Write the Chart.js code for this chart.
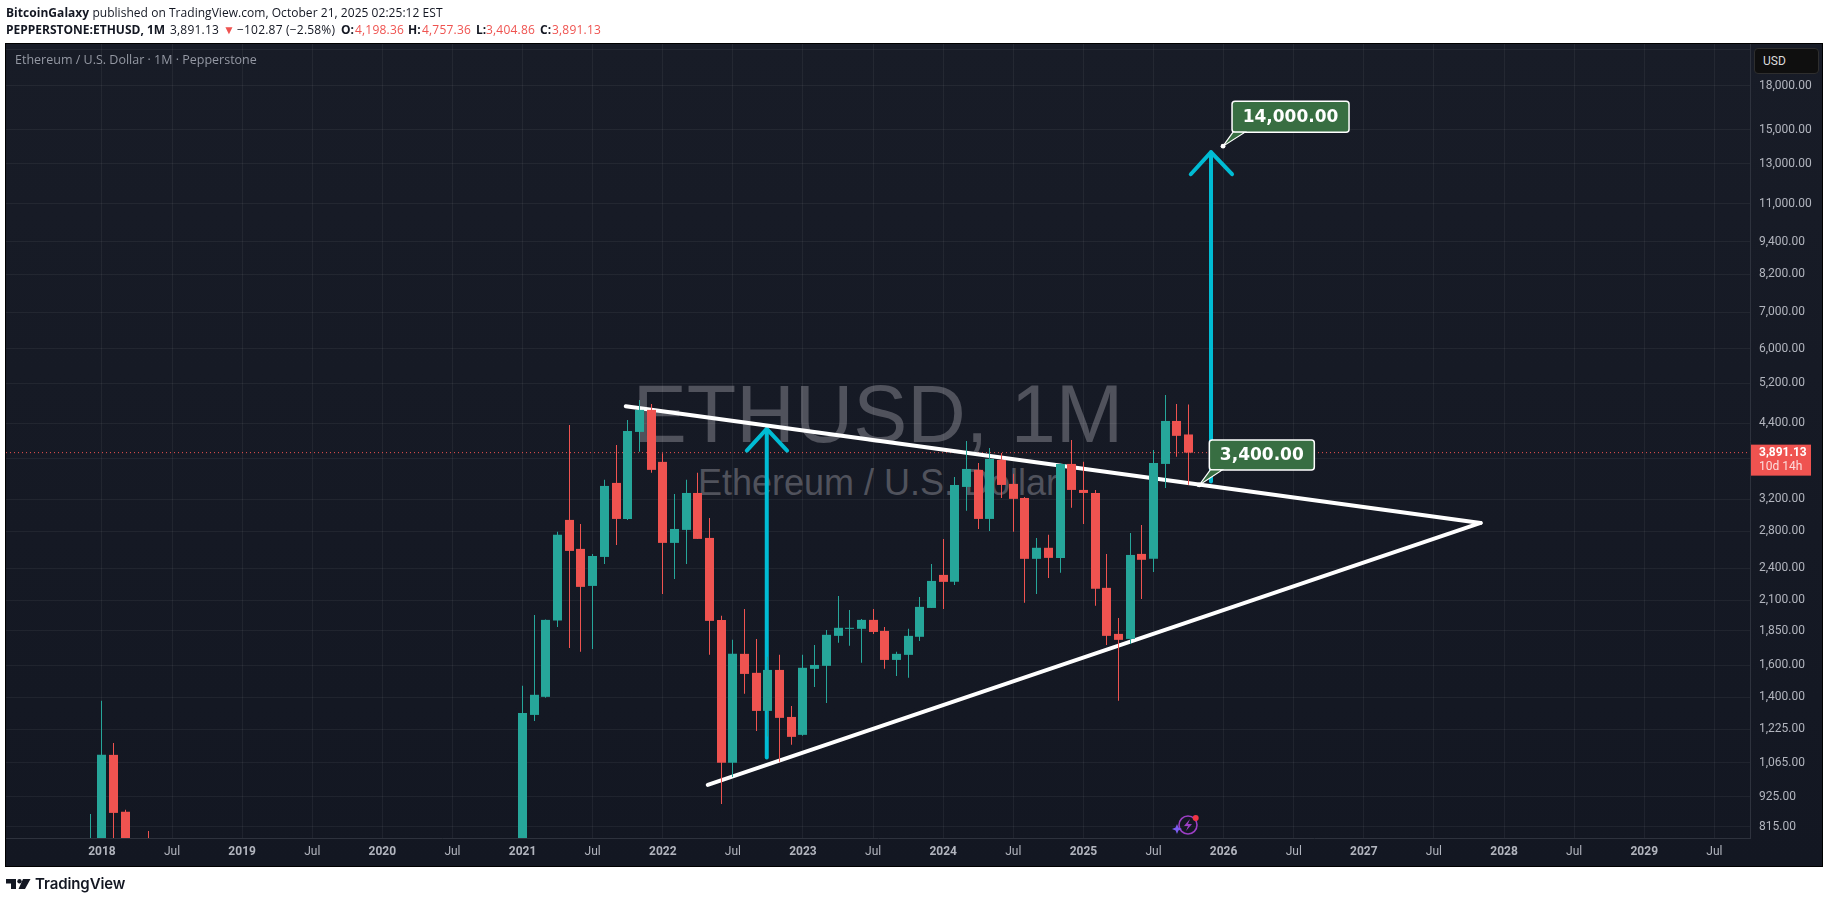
<!DOCTYPE html>
<html>
<head>
<meta charset="utf-8">
<title>ETHUSD 1M</title>
<script src="https://cdn.jsdelivr.net/npm/chart.js@4"></script>
<style>
  html,body{margin:0;padding:0;background:#fff;overflow:hidden}
  body{width:1829px;height:903px;position:relative;font-family:"Open Sans",sans-serif;color:#131722}
  .abs{position:absolute;white-space:nowrap}
  #frame{left:5px;top:43px;width:1816px;height:822px;border:1px solid #000;background:linear-gradient(#181c27,#131722)}
  #chart{position:absolute;left:0;top:0}
  #line1{left:6px;top:4px;font-size:12px;line-height:17px;letter-spacing:.04px}
  #line2 span{position:absolute;top:21px;font-size:12px;line-height:18px;white-space:nowrap;letter-spacing:.2px}
  #line2 span.b{font-weight:700;letter-spacing:0}
  #line2 span.r{color:#ef5350}
  #line1 b{font-weight:700}
  #legend{left:15px;top:51px;font-size:12.5px;line-height:18px;color:#949823;color:#9498a3}
  .wm{left:6px;width:1744px;text-align:center;font-family:"Liberation Sans",sans-serif;color:#50525c}
  #wm1{top:367px;font-size:81px;line-height:94px}
  #wm2{top:462px;font-size:36px;line-height:42px}
  #usd{left:1754px;top:48px;width:55px;height:24px;padding-left:8px;border:1px solid #2e2e2e;border-radius:4px;background:#0f0f0f;color:#dbdbdb;font:12px/24px Roboto,sans-serif}
  #logotext{left:35px;top:872px;font:600 15px/24px Inter,sans-serif;color:#131722;letter-spacing:-.1px}
</style>
</head>
<body>
<div id="frame" class="abs"></div>
<div id="wm1" class="abs wm">ETHUSD, 1M</div>
<div id="wm2" class="abs wm">Ethereum / U.S. Dollar</div>
<canvas id="chart" width="1829" height="903"></canvas>
<div id="line1" class="abs"><b>BitcoinGalaxy</b> published on TradingView.com, October 21, 2025 02:25:12 EST</div>
<div id="line2">
  <span class="b" style="left:6px">PEPPERSTONE:ETHUSD, 1M</span>
  <span style="left:170px">3,891.13</span>
  <span class="r" style="left:223px">▼</span>
  <span style="left:237px">−102.87 (−2.58%)</span>
  <span class="b" style="left:341px">O:</span>
  <span class="r" style="left:355px">4,198.36</span>
  <span class="b" style="left:408px">H:</span>
  <span class="r" style="left:422px">4,757.36</span>
  <span class="b" style="left:476px">L:</span>
  <span class="r" style="left:486px">3,404.86</span>
  <span class="b" style="left:540px">C:</span>
  <span class="r" style="left:552px">3,891.13</span>
</div>
<div id="legend" class="abs">Ethereum / U.S. Dollar · 1M · Pepperstone</div>
<div id="usd" class="abs">USD</div>
<svg class="abs" style="left:1172px;top:811px" width="32" height="26" viewBox="0 0 32 26">
  <circle cx="16" cy="14" r="9" fill="none" stroke="#9c3fc4" stroke-width="1.6"/>
  <path d="M18 8 L12 15 L16 15 L14 20 L20 13 L16 13 Z" fill="#9c3fc4"/>
  <circle cx="23.7" cy="7" r="3" fill="#f23645"/>
  <path d="M5 13 L6.4 16.6 L10 18 L6.4 19.4 L5 23 L3.6 19.4 L0 18 L3.6 16.6 Z" fill="#7b5cf0"/>
</svg>
<svg class="abs" style="left:6px;top:879px" width="25" height="10" viewBox="0 0 25 10">
  <path d="M0 0 H10 V10 H5 V4.5 H0 Z M17 0 H24.5 L19 10 H12.5 Z" fill="#131722"/>
  <circle cx="13.5" cy="2.2" r="2.2" fill="#131722"/>
</svg>
<div id="logotext" class="abs">TradingView</div>

<script>
// monthly candles, x is months since Jan 2018
const candleMonths = [-1,0,1,2,3,4,
  36,37,38,39,40,41,42,43,44,45,46,47,
  48,49,50,51,52,53,54,55,56,57,58,59,
  60,61,62,63,64,65,66,67,68,69,70,71,
  72,73,74,75,76,77,78,79,80,81,82,83,
  84,85,86,87,88,89,90,91,92,93];
const opens = [450,740,1101,868,400,670,
  737,1301,1403,1930,2938,2603,2230,2517,3429,2950,4243,4652,
  3744,2669,2818,3288,2725,1935,1065,1679,1551,1323,1570,1290,
  1197,1577,1597,1810,1864,1864,1935,1848,1637,1672,1803,2034,
  2335,2268,3372,3621,2950,3775,3415,3220,2497,2615,2507,3712,
  3330,3288,2212,1825,1787,2549,2497,3712,4442,4198];
const highs = [860,1380,1157,875,700,801,
  1469,1975,1938,2795,4369,2889,2549,3474,4019,4461,4850,4769,
  3881,3275,3474,3576,2963,1968,1780,2026,1787,1658,1672,1351,
  1672,1743,1855,2139,2017,1943,2026,1879,1693,1864,2130,2445,
  2714,3516,4087,3728,3969,3887,3561,3234,2725,2760,3728,4104,
  3744,3330,2549,1951,2783,2877,3936,4953,4769,4757];
const lows = [430,700,600,370,360,500,
  715,1269,1397,1879,1721,1693,1714,2445,2647,2938,3904,3576,
  2157,2296,2445,2714,1672,897,1004,1421,1217,1189,1070,1148,
  1192,1462,1368,1758,1736,1617,1825,1577,1531,1519,1772,2034,
  2026,2239,3051,2829,2806,3220,2795,2078,2157,2306,2355,3090,
  2889,2052,1743,1380,1750,2112,2364,3358,3823,3404];
const closes = [740,1101,864,400,670,580,
  1312,1415,1935,2760,2581,2221,2527,3386,2950,4261,4652,3621,
  2669,2829,3288,2714,1927,1065,1679,1544,1323,1570,1285,1187,
  1584,1603,1818,1872,1872,1935,1840,1637,1679,1810,2043,2277,
  2268,3400,3635,2950,3791,3400,3208,2497,2615,2507,3712,3330,
  3288,2203,1810,1780,2538,2487,3728,4442,4174,3891];

const xTickMonths = [0,6,12,18,24,30,36,42,48,54,60,66,72,78,84,90,96,102,108,114,120,126,132,138];
const xTickLabels = ['2018','Jul','2019','Jul','2020','Jul','2021','Jul','2022','Jul','2023','Jul','2024','Jul','2025','Jul','2026','Jul','2027','Jul','2028','Jul','2029','Jul'];
const yTickValues = [21000,18000,15000,13000,11000,9400,8200,7000,6000,5200,4400,3800,3200,2800,2400,2100,1850,1600,1400,1225,1065,925,815];
const yTickLabels = ['','18,000.00','15,000.00','13,000.00','11,000.00','9,400.00','8,200.00','7,000.00','6,000.00','5,200.00','4,400.00','','3,200.00','2,800.00','2,400.00','2,100.00','1,850.00','1,600.00','1,400.00','1,225.00','1,065.00','925.00','815.00'];

const upperMonths = [44.83,118.0];
const upperPrices = [4724,2901];
const lowerMonths = [51.85,118.0];
const lowerPrices = [971,2901];
const arrow1Months = [56.9,56.9];
const arrow1Prices = [1089,4297];
const head1Months = [55.19,56.9,58.64];
const head1Prices = [3925,4297,3925];
const arrow2Months = [94.92,94.92];
const arrow2Prices = [3448,13650];
const head2Months = [93.19,94.92,96.72];
const head2Prices = [12450,13650,12450];
const lastClose = 3891.13;
const lastCountdown = '10d 14h';
const xMin = -8.21, xMax = 141.05;
const yMin = 778, yMax = 21450;

const callouts = [
  {month:95.95, price:14000, text:'14,000.00', w:117, h:31, dx:9},
  {month:93.92, price:3400, text:'3,400.00', w:105, h:30, dx:10}
];

const GREEN = '#26a69a', RED = '#ef5350', CYAN = '#00bcd4';
const colors = closes.map((c,i)=> c >= opens[i] ? GREEN : RED);
const zip = (xs,ys)=> xs.map((x,i)=>({x, y:ys[i]}));

function lineSet(xs, ys, color, width){
  return {type:'line', data:zip(xs,ys), borderColor:color, borderWidth:width, pointRadius:0,
    borderCapStyle:'round', borderJoinStyle:'round', tension:0, order:3};
}

// TradingView snaps candles to whole pixels
const snapBars = {
  id:'snapBars',
  beforeDatasetsDraw(chart){
    chart.getSortedVisibleDatasetMetas().forEach(m=>{
      if(m.type !== 'bar') return;
      m.data.forEach(el=>{ el.x = Math.floor(el.x) + 0.5; });
    });
  }
};

const overlays = {
  id:'overlays',
  afterDatasetsDraw(chart){
    const ctx = chart.ctx, xs = chart.scales.x, ys = chart.scales.y;
    ctx.save();
    callouts.forEach(c=>{
      const ax = xs.getPixelForValue(c.month), ay = ys.getPixelForValue(c.price);
      const left = ax + c.dx, top = ay - 45;
      ctx.beginPath();
      ctx.roundRect(left, top, c.w, c.h, 3);
      ctx.fillStyle = '#386e42';
      ctx.fill();
      ctx.strokeStyle = '#fff';
      ctx.lineWidth = 1.5;
      ctx.stroke();
      ctx.beginPath();
      ctx.moveTo(left + 1, top + c.h);
      ctx.lineTo(ax, ay);
      ctx.lineTo(left + 13, top + c.h);
      ctx.closePath();
      ctx.fillStyle = '#386e42';
      ctx.fill();
      ctx.lineWidth = 1.2;
      ctx.stroke();
      ctx.beginPath();
      ctx.arc(ax, ay, 2.4, 0, Math.PI*2);
      ctx.fillStyle = '#fff';
      ctx.fill();
      ctx.fillStyle = '#fff';
      ctx.font = 'bold 17px "DejaVu Sans"';
      ctx.textAlign = 'center';
      ctx.textBaseline = 'middle';
      ctx.fillText(c.text, left + c.w/2, top + c.h/2 + 1);
    });
    // last price tag on the axis
    const py = ys.getPixelForValue(lastClose);
    ctx.fillStyle = RED;
    ctx.fillRect(1751, py - 8, 60, 31);
    ctx.textAlign = 'left';
    ctx.textBaseline = 'middle';
    ctx.fillStyle = '#fff';
    ctx.font = 'bold 12px Roboto';
    ctx.fillText(lastClose.toLocaleString('en-US',{minimumFractionDigits:2}), 1759, py);
    ctx.fillStyle = 'rgba(255,255,255,.8)';
    ctx.font = '12px Roboto';
    ctx.fillText(lastCountdown, 1759, py + 14);
    ctx.restore();
  }
};

new Chart(document.getElementById('chart').getContext('2d'), {
  type:'bar',
  data:{
    datasets:[
      {data:candleMonths.map((m,i)=>({x:m, y:[opens[i],closes[i]]})), backgroundColor:colors, barThickness:9, grouped:false, inflateAmount:0, order:1},
      {data:candleMonths.map((m,i)=>({x:m, y:[lows[i],highs[i]]})), backgroundColor:colors, barThickness:1, grouped:false, inflateAmount:0, order:2},
      lineSet(upperMonths, upperPrices, '#fff', 4),
      lineSet(lowerMonths, lowerPrices, '#fff', 4),
      lineSet(arrow1Months, arrow1Prices, CYAN, 4),
      lineSet(head1Months, head1Prices, CYAN, 4),
      lineSet(arrow2Months, arrow2Prices, CYAN, 4),
      lineSet(head2Months, head2Prices, CYAN, 4),
      {type:'line', data:zip([xMin,xMax],[lastClose,lastClose]), borderColor:RED, borderWidth:1, borderDash:[1,3], pointRadius:0, order:4}
    ]
  },
  options:{
    responsive:false,
    devicePixelRatio:1,
    animation:false,
    layout:{padding:{left:6, top:44, right:6, bottom:37}},
    plugins:{legend:{display:false}, tooltip:{enabled:false}},
    scales:{
      x:{
        type:'linear', min:xMin, max:xMax, offset:false,
        grid:{offset:false, color:'rgba(242,243,245,.06)', drawTicks:false},
        border:{color:'#2e323d'},
        afterBuildTicks(scale){ scale.ticks = xTickMonths.map(value=>({value})); },
        afterFit(scale){ scale.height = 28; },
        ticks:{
          autoSkip:false, maxRotation:0, padding:7, color:'#b2b5be',
          font:ctx=>({family:'Roboto', size:12, weight:(ctx.tick && ctx.tick.label==='Jul') ? 'normal' : 'bold'}),
          callback:v=> xTickLabels[xTickMonths.indexOf(v)]
        }
      },
      y:{
        type:'logarithmic', position:'right', min:yMin, max:yMax,
        grid:{color:'rgba(242,243,245,.06)', drawTicks:false},
        border:{color:'#2e323d'},
        afterBuildTicks(scale){ scale.ticks = yTickValues.map(value=>({value})); },
        afterFit(scale){ scale.width = 73; },
        ticks:{
          autoSkip:false, padding:9, crossAlign:'near', color:'#b2b5be',
          font:{family:'Roboto', size:12},
          callback:v=> yTickLabels[yTickValues.indexOf(v)]
        }
      }
    }
  },
  plugins:[snapBars, overlays]
});
</script>
</body>
</html>
